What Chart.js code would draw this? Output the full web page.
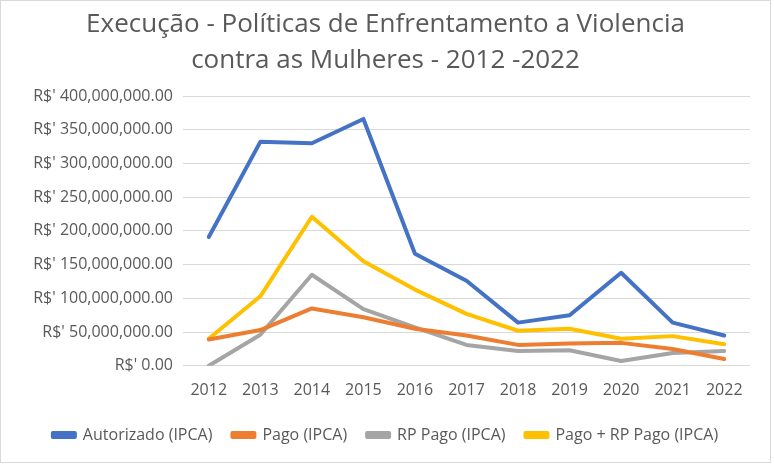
<!DOCTYPE html>
<html><head><meta charset="utf-8">
<script src="https://cdn.jsdelivr.net/npm/chart.js@4/dist/chart.umd.min.js"></script>
<style>html,body{margin:0;padding:0;background:#fff}#w{width:771px;height:463px;position:relative;box-sizing:border-box;border:1px solid #d9d9d9}</style>
</head><body><div id="w"><canvas id="c"></canvas></div>
<script>
const years = ['2012','2013','2014','2015','2016','2017','2018','2019','2020','2021','2022'];
const autorizado = [191e6,332e6,330e6,366e6,166e6,126e6,64e6,75e6,138e6,64e6,45e6];
const pago = [39e6,53e6,85e6,72e6,55e6,45e6,31e6,33e6,34e6,25e6,10e6];
const rpPago = [0,46e6,135e6,84e6,57e6,31e6,22e6,23e6,7e6,19e6,22e6];
const pagoRp = [40e6,103e6,221e6,155e6,113e6,77e6,52e6,55e6,40e6,44e6,32e6];
const seriesNames = ['Autorizado (IPCA)','Pago (IPCA)','RP Pago (IPCA)','Pago + RP Pago (IPCA)'];
const titleLines = ['Execução - Políticas de Enfrentamento a Violencia','contra as Mulheres - 2012 -2022'];
const fmt = v => "R$' " + Number(v).toLocaleString('en-US',{minimumFractionDigits:2,maximumFractionDigits:2});
const ds = (label,data,color)=>({label,data,borderColor:color,backgroundColor:color,borderWidth:4,pointRadius:0,tension:0,fill:false,borderCapStyle:'round',borderJoinStyle:'round'});
const F = 'Open Sans';
new Chart(document.getElementById('c'),{
  type:'line',
  data:{labels:years,datasets:[
    ds(seriesNames[0],autorizado,'#4472c4'),
    ds(seriesNames[1],pago,'#ed7d31'),
    ds(seriesNames[2],rpPago,'#a5a5a5'),
    ds(seriesNames[3],pagoRp,'#ffc000')
  ]},
  options:{
    responsive:true,maintainAspectRatio:false,animation:false,
    layout:{padding:{left:20,right:20,top:0,bottom:9}},
    plugins:{
      title:{display:true,text:titleLines,color:'#595959',font:{family:F,size:26,weight:'normal',lineHeight:1.404},padding:{top:5,bottom:17}},
      legend:{position:'bottom',labels:{color:'#595959',font:{family:F,size:16},boxWidth:22,boxHeight:4,padding:20}},
      tooltip:{enabled:false}
    },
    scales:{
      x:{offset:true,grid:{display:false},border:{display:false},ticks:{color:'#595959',font:{family:F,size:16},padding:7,maxRotation:0,autoSkip:false}},
      y:{min:0,max:400e6,grid:{color:'#d9d9d9',lineWidth:1,drawTicks:false},border:{display:false},
         afterFit:a=>{a.width=162;},
         ticks:{stepSize:50e6,color:'#595959',font:{family:F,size:16},padding:10,callback:v=>fmt(v)}}
    }
  }
});
</script></body></html>
